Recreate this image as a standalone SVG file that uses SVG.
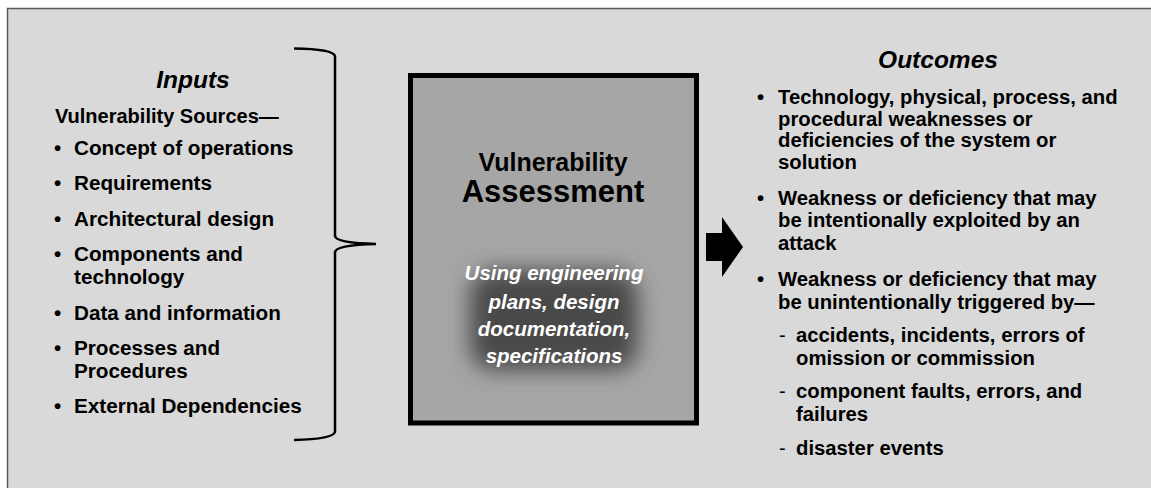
<svg xmlns="http://www.w3.org/2000/svg" width="1151" height="488" viewBox="0 0 1151 488">
<defs>
<style>
.t{font-family:"Liberation Sans",Arial,sans-serif;font-weight:bold;fill:#000;}
.b{font-size:20.7px;}
.o{font-size:20.3px;}
.h{font-size:24.5px;font-style:italic;}
.w{font-family:"Liberation Sans",Arial,sans-serif;font-weight:bold;font-style:italic;font-size:20.5px;fill:#fff;}
.d{font-family:"Liberation Sans",Arial,sans-serif;font-size:20px;fill:#000;}
</style>
<filter id="blur" x="-40%" y="-50%" width="180%" height="200%"><feGaussianBlur stdDeviation="11"/></filter>
</defs>
<rect id="panel" x="7.5" y="8.5" width="1150" height="490" fill="#d9d9d9" stroke="#595959" stroke-width="1.5"/>
<g id="inputs">
<text class="t h" x="193" y="88" text-anchor="middle">Inputs</text>
<text class="t" style="font-size:20px" x="55" y="123">Vulnerability Sources—</text>
<g class="t b">
<text x="54" y="155">•</text><text x="74" y="155">Concept of operations</text>
<text x="54" y="190">•</text><text x="74" y="190">Requirements</text>
<text x="54" y="226">•</text><text x="74" y="226">Architectural design</text>
<text x="54" y="261">•</text><text x="74" y="261">Components and</text>
<text x="74" y="284">technology</text>
<text x="54" y="320">•</text><text x="74" y="320">Data and information</text>
<text x="54" y="355">•</text><text x="74" y="355">Processes and</text>
<text x="74" y="378">Procedures</text>
<text x="54" y="413">•</text><text x="74" y="413">External Dependencies</text>
</g>
</g>
<g id="connectors">
<path id="brace" d="M294,48.5 Q333,49 335,56 L335,236 Q336,243 376,244 Q336,245 335,252 L335,432 Q333,439 294,440" fill="none" stroke="#000" stroke-width="2.5"/>
<polygon id="arrow" points="706,233 722,233 722,217 743,247 722,277 722,261 706,261" fill="#000"/>
</g>
<g id="assessment">
<rect x="410.5" y="75.5" width="286" height="347.5" fill="#a6a6a6" stroke="#000" stroke-width="5"/>
<text class="t" style="font-size:25px" x="553" y="171" text-anchor="middle">Vulnerability</text>
<text class="t" style="font-size:31px" x="553" y="202" text-anchor="middle">Assessment</text>
<rect x="470" y="270" width="168" height="100" rx="24" fill="#4a4a4a" filter="url(#blur)"/>
<g class="w" text-anchor="middle">
<text x="554" y="280">Using engineering</text>
<text x="554" y="309">plans, design</text>
<text x="554" y="336">documentation,</text>
<text x="554" y="363">specifications</text>
</g>
</g>
<g id="outcomes">
<text class="t h" x="938" y="68" text-anchor="middle">Outcomes</text>
<g class="t o">
<text x="757" y="104">•</text><text x="778" y="104">Technology, physical, process, and</text>
<text x="778" y="126">procedural weaknesses or</text>
<text x="778" y="147">deficiencies of the system or</text>
<text x="778" y="169">solution</text>
<text x="757" y="205">•</text><text x="778" y="205">Weakness or deficiency that may</text>
<text x="778" y="227">be intentionally exploited by an</text>
<text x="778" y="250">attack</text>
<text x="757" y="286">•</text><text x="778" y="286">Weakness or deficiency that may</text>
<text x="778" y="309">be unintentionally triggered by—</text>
<text x="796" y="342">accidents, incidents, errors of</text>
<text x="796" y="365">omission or commission</text>
<text x="796" y="398">component faults, errors, and</text>
<text x="796" y="421">failures</text>
<text x="796" y="455">disaster events</text>
</g>
<g class="d">
<text x="779" y="342">-</text>
<text x="779" y="398">-</text>
<text x="779" y="455">-</text>
</g>
</g>
</svg>
